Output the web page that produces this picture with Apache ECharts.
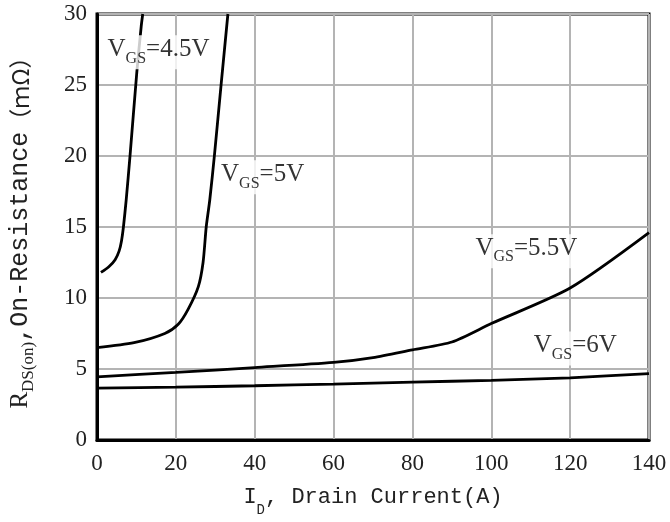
<!DOCTYPE html>
<html>
<head>
<meta charset="utf-8">
<script src="https://cdn.jsdelivr.net/npm/echarts@6/dist/echarts.min.js"></script>
<style>
  html, body { margin: 0; padding: 0; background: #fff; }
  #chart { width: 670px; height: 522px; }
</style>
</head>
<body>
<div id="chart"></div>
<script>
// drain current (A) / on-resistance (mOhm)
const vgs45 = [[1, 11.8], [3, 12.2], [4.6, 12.7], [5.6, 13.3], [6.2, 14], [6.7, 15], [7.4, 16.9], [8.4, 20.1], [10.1, 25.9], [11.2, 29.1], [11.6, 30]];
const vgs5 = [[0, 6.5], [9.4, 6.85], [17.2, 7.5], [20.6, 8.15], [23.1, 9.2], [25.7, 10.8], [26.9, 12.5], [27.7, 15], [28.6, 16.9], [29.8, 20.1], [31.5, 25.1], [33.2, 30]];
const vgs55 = [[0, 4.45], [20, 4.76], [40, 5.1], [60, 5.46], [70, 5.8], [80, 6.35], [90, 6.9], [100, 8.2], [120, 10.7], [140, 14.6]];
const vgs6 = [[0, 3.65], [20, 3.72], [40, 3.82], [60, 3.94], [80, 4.08], [100, 4.2], [120, 4.38], [140, 4.68]];

const curveNames = ['4.5V', '5V', '5.5V', '6V'];
const labelPos = [[15.6, 27.3], [42.0, 18.5], [108.9, 13.3], [121.3, 6.45]];

const xTicks = [0, 20, 40, 60, 80, 100, 120, 140];
const yTicks = [0, 5, 10, 15, 20, 25, 30];

const chart = echarts.init(document.getElementById('chart'));

const lineSeries = [vgs45, vgs5, vgs55, vgs6].map((d, i) => ({
    name: curveNames[i],
    type: 'line',
    data: d,
    symbol: 'none',
    smooth: 0.25,
    lineStyle: { color: '#000', width: 2.8 },
    z: 3
}));

const option = {
    backgroundColor: '#fff',
    animation: false,
    grid: {
        left: 96,
        right: 21,
        top: 14,
        bottom: 81,
        show: true,
        borderColor: '#000',
        borderWidth: 3
    },
    xAxis: {
        type: 'value',
        min: xTicks[0],
        max: xTicks[xTicks.length - 1],
        interval: 20,
        name: '{m|I}{s|D}{m|, Drain Current(A)}',
        nameLocation: 'middle',
        nameGap: 46,
        nameTextStyle: {
            rich: {
                m: { fontFamily: 'Liberation Mono', fontSize: 22, color: '#222', lineHeight: 28, verticalAlign: 'top' },
                s: { fontFamily: 'Liberation Mono', fontSize: 14, color: '#222', lineHeight: 28, verticalAlign: 'top', padding: [17, 0, 0, 0] }
            }
        },
        axisLine: { show: true, lineStyle: { color: '#000', width: 3 } },
        axisTick: { show: false },
        axisLabel: { fontFamily: 'Liberation Serif', fontSize: 23, color: '#222', margin: 12 },
        splitLine: { lineStyle: { color: '#b4b4b4', width: 2 } }
    },
    yAxis: {
        type: 'value',
        min: yTicks[0],
        max: yTicks[yTicks.length - 1],
        interval: 5,
        name: '{r|R}{s|DS(on)}{m|,On-Resistance}{c|（ｍΩ）}',
        nameLocation: 'middle',
        nameRotate: 90,
        nameGap: 59,
        nameTextStyle: {
            rich: {
                r: { fontFamily: 'Liberation Serif', fontSize: 25, color: '#222', lineHeight: 30, verticalAlign: 'top' },
                m: { fontFamily: 'Liberation Mono', fontSize: 25, color: '#222', lineHeight: 30, verticalAlign: 'top' },
                c: { fontFamily: 'Noto Sans CJK JP', fontSize: 23, color: '#222', lineHeight: 30, verticalAlign: 'top', padding: [1, 0, 0, 0] },
                s: { fontFamily: 'Liberation Serif', fontSize: 17, color: '#222', lineHeight: 30, verticalAlign: 'top', padding: [12, 0, 0, 0] }
            }
        },
        axisLine: { show: true, lineStyle: { color: '#000', width: 3 } },
        axisTick: { show: false },
        axisLabel: { fontFamily: 'Liberation Serif', fontSize: 23, color: '#222', margin: 10 },
        splitLine: { lineStyle: { color: '#b4b4b4', width: 2 } }
    },
    series: lineSeries.concat([{
        type: 'scatter',
        symbolSize: 0,
        silent: true,
        z: 10,
        data: labelPos.map((p, i) => ({ value: p, name: curveNames[i] })),
        label: {
            show: true,
            position: 'inside',
            backgroundColor: '#fff',
            padding: [2, 3],
            formatter: (p) => '{v|V}{s|GS}{v|=' + p.name + '}',
            rich: {
                v: { fontFamily: 'Liberation Serif', fontSize: 25, color: '#000', lineHeight: 30, verticalAlign: 'top' },
                s: { fontFamily: 'Liberation Serif', fontSize: 16, color: '#000', lineHeight: 30, verticalAlign: 'top', padding: [13, 0, 0, 0] }
            }
        }
    }])
};

chart.setOption(option);
</script>
</body>
</html>
